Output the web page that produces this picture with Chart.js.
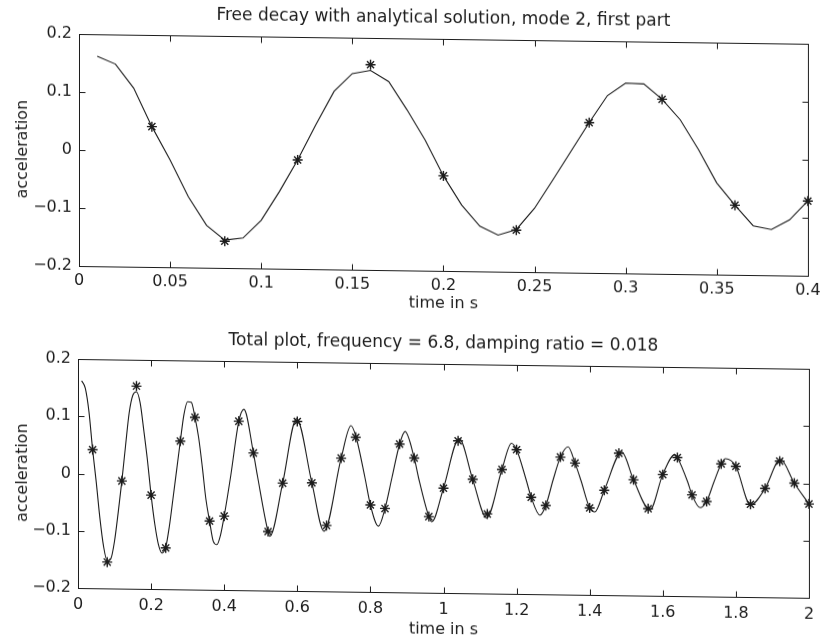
<!DOCTYPE html>
<html>
<head>
<meta charset="utf-8">
<script src="https://cdn.jsdelivr.net/npm/chart.js@4/dist/chart.umd.min.js"></script>
<style>
  body { margin: 0; background: #fff; }
  #wrap { position: relative; width: 826px; height: 644px; overflow: hidden; }
  canvas { position: absolute; left: 0; }
  #decay { top: 0; transform: skewY(0.77deg); transform-origin: 79px 0; }
  #total { top: 322px; transform: skewY(0.77deg); transform-origin: 78px 0; }
</style>
</head>
<body>
<div id="wrap">
  <canvas id="decay" width="826" height="318"></canvas>
  <canvas id="total" width="826" height="322"></canvas>
</div>
<script>
// analytical solution, sampled every 0.01 s
let sampleTime = [0.01, 0.02, 0.03, 0.04, 0.05, 0.06, 0.07, 0.08, 0.09, 0.10,
  0.11, 0.12, 0.13, 0.14, 0.15, 0.16, 0.17, 0.18, 0.19, 0.20,
  0.21, 0.22, 0.23, 0.24, 0.25, 0.26, 0.27, 0.28, 0.29, 0.30,
  0.31, 0.32, 0.33, 0.34, 0.35, 0.36, 0.37, 0.38, 0.39, 0.40];
let sampleAccel = [0.162, 0.149, 0.108, 0.042, -0.015, -0.078, -0.127, -0.152, -0.148, -0.117,
  -0.067, -0.012, 0.049, 0.107, 0.138, 0.144, 0.125, 0.077, 0.025, -0.036,
  -0.086, -0.122, -0.137, -0.127, -0.090, -0.041, 0.009, 0.059, 0.106, 0.128,
  0.127, 0.101, 0.066, 0.015, -0.042, -0.080, -0.115, -0.121, -0.104, -0.071];

// rest of the analytical curve up to 2 s
let tailTime = [0.418, 0.44, 0.454, 0.48, 0.491, 0.52, 0.525, 0.56, 0.598, 0.64,
  0.673, 0.72, 0.747, 0.76, 0.785, 0.80, 0.822, 0.84, 0.859, 0.88,
  0.895, 0.92, 0.932, 0.96, 0.968, 1.00, 1.043, 1.08, 1.118, 1.16,
  1.186, 1.20, 1.226, 1.24, 1.264, 1.28, 1.30, 1.32, 1.341, 1.36,
  1.376, 1.40, 1.414, 1.44, 1.488, 1.52, 1.565, 1.60, 1.633, 1.64,
  1.668, 1.68, 1.702, 1.72, 1.74, 1.76, 1.772, 1.80, 1.84, 1.88,
  1.922, 1.96, 2.00];
let tailAccel = [0, 0.095, 0.116, 0.040, 0, -0.097, -0.105, -0.012, 0.101, -0.011,
  -0.095, 0.033, 0.090, 0.072, 0, -0.048, -0.085, -0.054, 0, 0.059,
  0.081, 0.035, 0, -0.067, -0.076, -0.017, 0.070, -0.001, -0.068, 0.017,
  0.063, 0.052, 0, -0.031, -0.062, -0.045, 0, 0.040, 0.058, 0.030,
  0, -0.048, -0.055, -0.017, 0.050, 0.002, -0.050, 0.012, 0.047, 0.042,
  0, -0.023, -0.045, -0.034, 0, 0.032, 0.041, 0.028, -0.039, -0.010,
  0.041, 0.000, -0.036];

// measured free decay, every 0.04 s
let measTime = [0.04, 0.08, 0.12, 0.16, 0.20, 0.24, 0.28, 0.32, 0.36, 0.40,
  0.44, 0.48, 0.52, 0.56, 0.60, 0.64, 0.68, 0.72, 0.76, 0.80,
  0.84, 0.88, 0.92, 0.96, 1.00, 1.04, 1.08, 1.12, 1.16, 1.20,
  1.24, 1.28, 1.32, 1.36, 1.40, 1.44, 1.48, 1.52, 1.56, 1.60,
  1.64, 1.68, 1.72, 1.76, 1.80, 1.84, 1.88, 1.92, 1.96, 2.00];
let measAccel = [0.042, -0.154, -0.012, 0.154, -0.036, -0.128, 0.059, 0.101, -0.080, -0.071,
  0.095, 0.040, -0.097, -0.012, 0.096, -0.011, -0.085, 0.033, 0.070, -0.048,
  -0.054, 0.059, 0.035, -0.067, -0.017, 0.066, -0.001, -0.061, 0.017, 0.052,
  -0.031, -0.045, 0.040, 0.030, -0.048, -0.017, 0.048, 0.002, -0.048, 0.012,
  0.042, -0.023, -0.034, 0.032, 0.028, -0.038, -0.010, 0.038, 0.000, -0.036];

let accelTicks = [-0.2, -0.1, 0, 0.1, 0.2];

const INK = '#1c1c1c';
const FONT = '"DejaVu Sans", sans-serif';
Chart.defaults.font.family = FONT;
Chart.defaults.font.size = 16;
Chart.defaults.color = INK;

function points(xs, ys) {
  return xs.map((t, i) => ({x: t, y: ys[i]}));
}

function tickText(v) {
  return String(Math.round(v * 1000) / 1000).replace('-', '\u2212');
}

// box round the plot area with inward tick marks on all four sides,
// plus the heading centred over the box
const frame = {
  id: 'frame',
  afterDraw(chart, args, opts) {
    const {ctx, chartArea: a, scales} = chart;
    const l = Math.round(a.left) + 0.5, r = Math.round(a.right) + 0.5;
    const t = Math.round(a.top) + 0.5, b = Math.round(a.bottom) + 0.5;
    ctx.save();
    ctx.strokeStyle = INK;
    ctx.lineWidth = 1;
    ctx.strokeRect(l, t, r - l, b - t);
    ctx.beginPath();
    scales.x.ticks.forEach(tk => {
      const px = Math.round(scales.x.getPixelForValue(tk.value)) + 0.5;
      ctx.moveTo(px, b); ctx.lineTo(px, b - 6);
      ctx.moveTo(px, t); ctx.lineTo(px, t + 6);
    });
    scales.y.ticks.forEach(tk => {
      const py = Math.round(scales.y.getPixelForValue(tk.value)) + 0.5;
      ctx.moveTo(l, py); ctx.lineTo(l + 6, py);
      ctx.moveTo(r, py); ctx.lineTo(r - 6, py);
    });
    ctx.stroke();

    ctx.fillStyle = INK;
    ctx.font = '17px ' + FONT;
    ctx.textAlign = 'center';
    ctx.textBaseline = 'alphabetic';
    ctx.fillText(opts.text, (a.left + a.right) / 2, a.top - 16);
    ctx.restore();
  }
};

function makePlot(id, opts) {
  return new Chart(document.getElementById(id), {
    type: 'scatter',
    data: {
      datasets: [{
        data: opts.line,
        showLine: true,
        borderColor: INK,
        borderWidth: 1.1,
        pointRadius: 0,
        tension: 0,
        cubicInterpolationMode: opts.smooth ? 'monotone' : 'default'
      }, {
        data: opts.stars,
        showLine: false,
        pointStyle: 'star',
        pointRadius: 5,
        borderColor: INK,
        borderWidth: 1.4,
        clip: false
      }]
    },
    options: {
      responsive: false,
      animation: false,
      layout: {padding: {left: 0, right: 826 - opts.right, top: opts.top, bottom: 0}},
      plugins: {
        legend: {display: false},
        tooltip: {enabled: false},
        frame: {text: opts.title}
      },
      scales: {
        x: {
          type: 'linear',
          min: 0,
          max: opts.xMax,
          grid: {display: false, drawTicks: false},
          border: {display: false},
          afterFit: s => { s.height = opts.xHeight; },
          ticks: {stepSize: opts.xStep, autoSkip: false, maxRotation: 0, padding: opts.tickPad, callback: tickText},
          title: {display: true, text: 'time in s', color: INK, padding: {top: 0, bottom: 9.4}}
        },
        y: {
          min: -0.2,
          max: 0.2,
          grid: {display: false, drawTicks: false},
          border: {display: false},
          afterFit: s => { s.width = opts.left; },
          afterBuildTicks: s => { s.ticks = accelTicks.map(v => ({value: v})); },
          ticks: {padding: 7, callback: tickText},
          title: {display: true, text: 'acceleration', color: INK, padding: {top: 13, bottom: 0}}
        }
      }
    },
    plugins: [frame]
  });
}

makePlot('decay', {
  title: 'Free decay with analytical solution, mode 2, first part',
  line: points(sampleTime, sampleAccel),
  stars: points(measTime.slice(0, 10), measAccel.slice(0, 10)),
  smooth: false,
  xMax: 0.4, xStep: 0.05,
  left: 79, right: 810, top: 34,
  xHeight: 52, tickPad: 5.4
});

makePlot('total', {
  title: 'Total plot, frequency = 6.8, damping ratio = 0.018',
  line: points(sampleTime.concat(tailTime), sampleAccel.concat(tailAccel)),
  stars: points(measTime, measAccel),
  smooth: true,
  xMax: 2, xStep: 0.2,
  left: 78, right: 809, top: 37,
  xHeight: 56, tickPad: 7.4
});
</script>
</body>
</html>
